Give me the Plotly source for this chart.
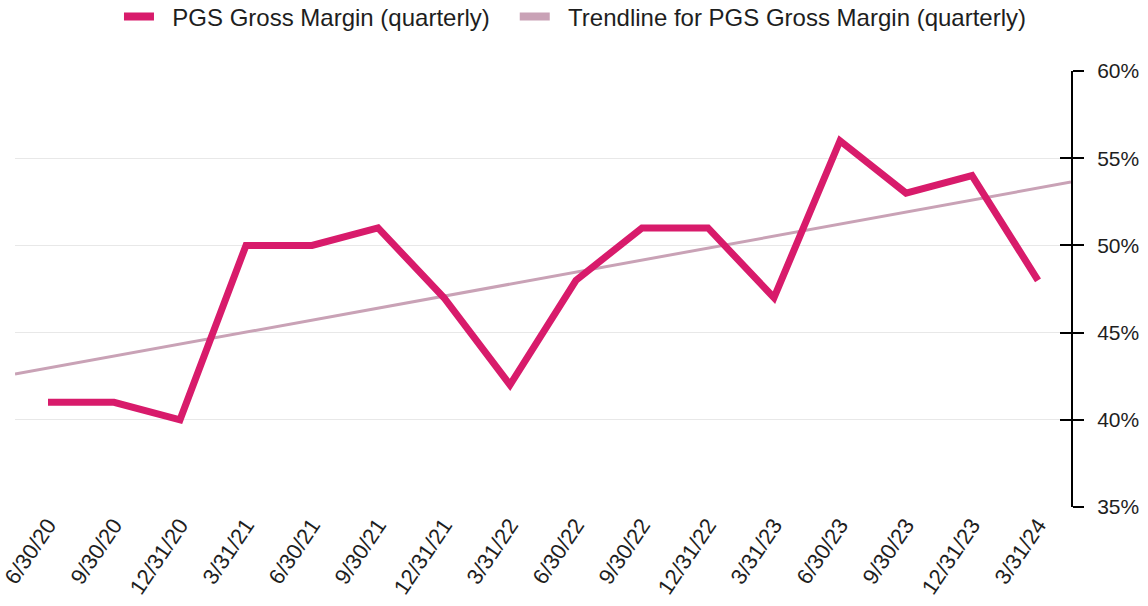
import numpy as np
import plotly.graph_objects as go

# quarter-end labels and PGS gross margin (fractions)
quarters = [
    "6/30/20", "9/30/20", "12/31/20", "3/31/21", "6/30/21", "9/30/21",
    "12/31/21", "3/31/22", "6/30/22", "9/30/22", "12/31/22", "3/31/23",
    "6/30/23", "9/30/23", "12/31/23", "3/31/24",
]
gross_margin = [
    0.41, 0.41, 0.40, 0.50, 0.50, 0.51, 0.47, 0.42,
    0.48, 0.51, 0.51, 0.47, 0.56, 0.53, 0.54, 0.48,
]
y_ticks = [0.35, 0.40, 0.45, 0.50, 0.55, 0.60]

MAIN = "#d81b6b"
TREND = "#c9a2b6"
FONT = "Liberation Sans, Arial, sans-serif"
TEXT = "#1e1e1e"
NB = "\u00a0"

x_idx = np.arange(len(quarters))
slope, intercept = np.polyfit(x_idx, gross_margin, 1)
x_edges = np.array([-0.5, len(quarters) - 0.5])
trend = slope * x_edges + intercept

fig = go.Figure()

fig.add_trace(
    go.Scatter(
        x=x_edges, y=trend, mode="lines",
        line=dict(color=TREND, width=3),
        showlegend=False, hoverinfo="skip",
    )
)
fig.add_trace(
    go.Scatter(
        x=x_idx, y=gross_margin, mode="lines",
        line=dict(color=MAIN, width=7),
        showlegend=False,
        hovertemplate="%{text}: %{y:.0%}<extra></extra>",
        text=quarters,
    )
)

# legend-only entries with thicker swatches (nbsp padding to space them out)
for name, color in [
    ("PGS Gross Margin (quarterly)", MAIN),
    ("Trendline for PGS Gross Margin (quarterly)", TREND),
]:
    fig.add_trace(
        go.Scatter(
            x=[None], y=[None], mode="lines",
            name=NB * 2 + name + NB * 3,
            line=dict(color=color, width=8),
        )
    )

# invisible overlay axis just to draw the inward half of the crossing ticks
fig.add_trace(
    go.Scatter(x=[None], y=[None], yaxis="y2", showlegend=False, hoverinfo="skip")
)

fig.update_layout(
    width=1148,
    height=606,
    font=dict(family=FONT, size=20, color=TEXT),
    plot_bgcolor="white",
    paper_bgcolor="white",
    margin=dict(l=15, r=77, t=71, b=99),
    xaxis=dict(
        range=[-0.5, len(quarters) - 0.5],
        tickvals=list(x_idx),
        ticktext=quarters,
        tickangle=-56,
        showgrid=False,
        zeroline=False,
        showline=False,
        ticks="",
        automargin=False,
        ticklabeloverflow="allow",
        tickfont=dict(size=22, color=TEXT),
    ),
    yaxis=dict(
        side="right",
        range=[0.35, 0.60],
        tickvals=y_ticks,
        tickformat=".0%",
        showgrid=True,
        gridcolor="#e8e8e8",
        gridwidth=1.2,
        zeroline=False,
        showline=True,
        linecolor="black",
        linewidth=2,
        ticks="outside",
        ticklen=11,
        tickwidth=2,
        tickcolor="black",
        ticklabelstandoff=9,
        automargin=False,
        ticklabeloverflow="allow",
        tickfont=dict(size=21, color=TEXT),
    ),
    yaxis2=dict(
        overlaying="y",
        side="right",
        range=[0.35, 0.60],
        tickvals=y_ticks,
        showticklabels=False,
        showgrid=False,
        zeroline=False,
        ticks="inside",
        ticklen=11,
        tickwidth=2,
        tickcolor="black",
        automargin=False,
    ),
    legend=dict(
        orientation="h",
        xref="container",
        yref="container",
        x=0.51,
        xanchor="center",
        y=1 - 17 / 606,
        yanchor="middle",
        font=dict(size=24, color=TEXT),
        itemwidth=30,
    ),
    showlegend=True,
)

fig.write_html(
    "out.html",
    config={"displayModeBar": False},
    post_script="document.body.style.margin='0';",
)
